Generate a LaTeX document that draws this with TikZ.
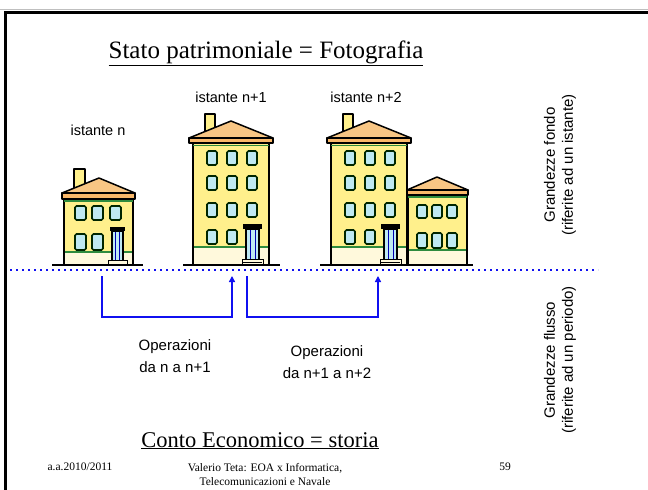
\documentclass[tikz,border=0pt]{standalone}
\usepackage{fontspec}
\setmainfont{Liberation Serif}
\newfontfamily\sansf{Liberation Sans}
\usetikzlibrary{arrows.meta}
\definecolor{wallc}{HTML}{FFF08C}
\definecolor{roofc}{HTML}{F8C684}
\definecolor{winc}{HTML}{BFE9F2}
\definecolor{plinthc}{HTML}{FFF9DC}
\definecolor{bandc}{HTML}{2E8B3E}
\definecolor{flowc}{HTML}{1010F0}
\tikzset{
  outl/.style={draw=black, line width=1.5pt, line join=round},
  winst/.style={draw=black!85!green, line width=1.6pt, fill=winc, rounded corners=1.5pt},
  bandst/.style={draw=bandc, line width=2pt},
  groundst/.style={draw=black, line width=2pt},
  flow/.style={draw=flowc, line width=1.6pt},
  titlest/.style={font=\fontsize{25}{30}\selectfont, anchor=base},
  contost/.style={font=\fontsize{22.5}{27}\selectfont, anchor=base},
  labst/.style={font=\sansf\fontsize{14.5}{18}\selectfont, anchor=base},
  opst/.style={font=\sansf\fontsize{15}{22}\selectfont, align=center},
  sidest/.style={font=\sansf\fontsize{15}{18}\selectfont, align=center, rotate=90},
  footst/.style={font=\fontsize{11.5}{14}\selectfont, anchor=base},
}
% tall house: local origin at bottom-left of wall, y up
\newcommand\tallhouse[2]{%
\begin{scope}[shift={(#1,#2)}, yscale=-1]
  \fill[plinthc] (0,0) rectangle (76,18);
  \fill[wallc] (0,18) rectangle (76,123);
  \draw[bandst] (0,18) -- (76,18);
  \draw[outl] (0,0) rectangle (76,123);
  \filldraw[outl, fill=wallc] (12,128) rectangle (22,151);
  \filldraw[outl, fill=roofc] (-4,127) -- (38,144) -- (80,127) -- cycle;
  \filldraw[outl, fill=roofc!80!orange] (-4,122) rectangle (80,127);
  \draw[bandc, line width=1pt] (0,120) -- (76,120);
  \foreach \yy in {100,75,48}{
    \foreach \xx in {14,34,54}{\draw[winst] (\xx,\yy) rectangle ++(10,14);}}
  \draw[winst] (14,21) rectangle ++(10,14);
  \draw[winst] (34,21) rectangle ++(10,14);
  \filldraw[draw=black, line width=1.2pt, fill=winc] (53,5) rectangle (66,36);
  \draw[blue!70!black, line width=0.8pt] (57,6) -- (57,35) (62,6) -- (62,35);
  \fill[black] (50,36) rectangle (69,41);
  \filldraw[draw=black, line width=1pt, fill=plinthc] (49,0) rectangle (70,6);
  \draw[black, line width=0.6pt] (50,3) -- (69,3);
\end{scope}}
% small house with chimney and door
\newcommand\smallhouse[2]{%
\begin{scope}[shift={(#1,#2)}, yscale=-1]
  \fill[plinthc] (0,0) rectangle (69,13);
  \fill[wallc] (0,13) rectangle (69,72);
  \draw[bandst] (0,13) -- (69,13);
  \draw[outl] (0,0) rectangle (69,72);
  \filldraw[outl, fill=wallc] (10,74) rectangle (21,96);
  \filldraw[outl, fill=roofc] (-2,72) -- (35,87) -- (71,72) -- cycle;
  \filldraw[outl, fill=roofc!80!orange] (-2,66) rectangle (71,72);
  \draw[bandc, line width=1.5pt] (0,64) -- (69,64);
  \foreach \xx in {11,28,46}{\draw[winst] (\xx,45) rectangle ++(11,14);}
  \draw[winst] (11,15) rectangle ++(11,16);
  \draw[winst] (28,15) rectangle ++(11,16);
  \filldraw[draw=black, line width=1.2pt, fill=winc] (48,4) rectangle (59,34);
  \draw[blue!70!black, line width=0.8pt] (51.5,5) -- (51.5,33) (55.5,5) -- (55.5,33);
  \fill[black] (46,34) rectangle (61,38);
  \filldraw[draw=black, line width=1pt, fill=plinthc] (44,0) rectangle (63,5);
\end{scope}}
% small annex without chimney and door
\newcommand\annexhouse[2]{%
\begin{scope}[shift={(#1,#2)}, yscale=-1]
  \fill[plinthc] (0,0) rectangle (59,15);
  \fill[wallc] (0,15) rectangle (59,75);
  \draw[bandst] (0,15) -- (59,15);
  \draw[outl] (0,0) rectangle (59,75);
  \filldraw[outl, fill=roofc] (-1,75) -- (29,88) -- (60,75) -- cycle;
  \filldraw[outl, fill=roofc!80!orange] (-1,70) rectangle (60,75);
  \draw[bandc, line width=1.5pt] (0,68) -- (59,68);
  \foreach \xx in {9,24,39}{\draw[winst] (\xx,47) rectangle ++(10,13);
    \draw[winst] (\xx,17) rectangle ++(10,15);}
\end{scope}}
\begin{document}
\begin{tikzpicture}[x=1pt, y=-1pt]
\useasboundingbox (0,0) rectangle (648,490);
\fill[white] (0,0) rectangle (648,490);
% frame
\draw[gray!50, line width=0.8pt] (0,9) -- (648,9);
\draw[black, line width=3pt] (5,490) -- (5,12) -- (648,12);
% titles
\node[titlest] (t1) at (266,58) {\underline{Stato patrimoniale = Fotografia}};
\node[contost] (t2) at (260,447) {\underline{Conto Economico = storia}};
% houses
\smallhouse{64}{265}
\draw[groundst] (52,265) -- (143,265);
\tallhouse{193}{265}
\draw[groundst] (183,265) -- (280,265);
\tallhouse{331}{265}
\annexhouse{408}{265}
\draw[groundst] (320,265) -- (473,265);
% labels
\node[labst] (l0) at (98,135) {istante n};
\node[labst] (l1) at (231,102) {istante n+1};
\node[labst] (l2) at (366,102) {istante n+2};
% dotted line
\coordinate (d0) at (10,270);
\coordinate (d1) at (598,270);
\draw[flowc, line width=2.4pt, dash pattern=on 2.4pt off 3.6pt] (d0) -- (d1);
% flow connectors
\coordinate (a1) at (102,276);
\coordinate (m1) at (102,317);
\coordinate (b1) at (232,276);
\coordinate (a2) at (247,276);
\coordinate (m2) at (247,317);
\coordinate (b2) at (378,276);
\draw[flow, -{Triangle[length=6pt, width=6pt]}] (a1) -- (m1) -| (b1);
\draw[flow, -{Triangle[length=6pt, width=6pt]}] (a2) -- (m2) -| (b2);
\node[opst] (o1) at (175,356) {Operazioni\\da n a n+1};
\node[opst] (o2) at (327,362) {Operazioni\\da n+1 a n+2};
% side labels
\node[sidest] (s1) at (560,165) {Grandezze fondo\\(riferite ad un istante)};
\node[sidest] (s2) at (560,360) {Grandezze flusso\\(riferite ad un periodo)};
% footer
\node[footst] (f1) at (80,470) {a.a.2010/2011};
\node[footst, align=center, anchor=north] (f2) at (265,460) {Valerio Teta: EOA x Informatica,\\Telecomunicazioni e Navale};
\node[footst] (f3) at (505,470) {59};
\end{tikzpicture}
\end{document}
